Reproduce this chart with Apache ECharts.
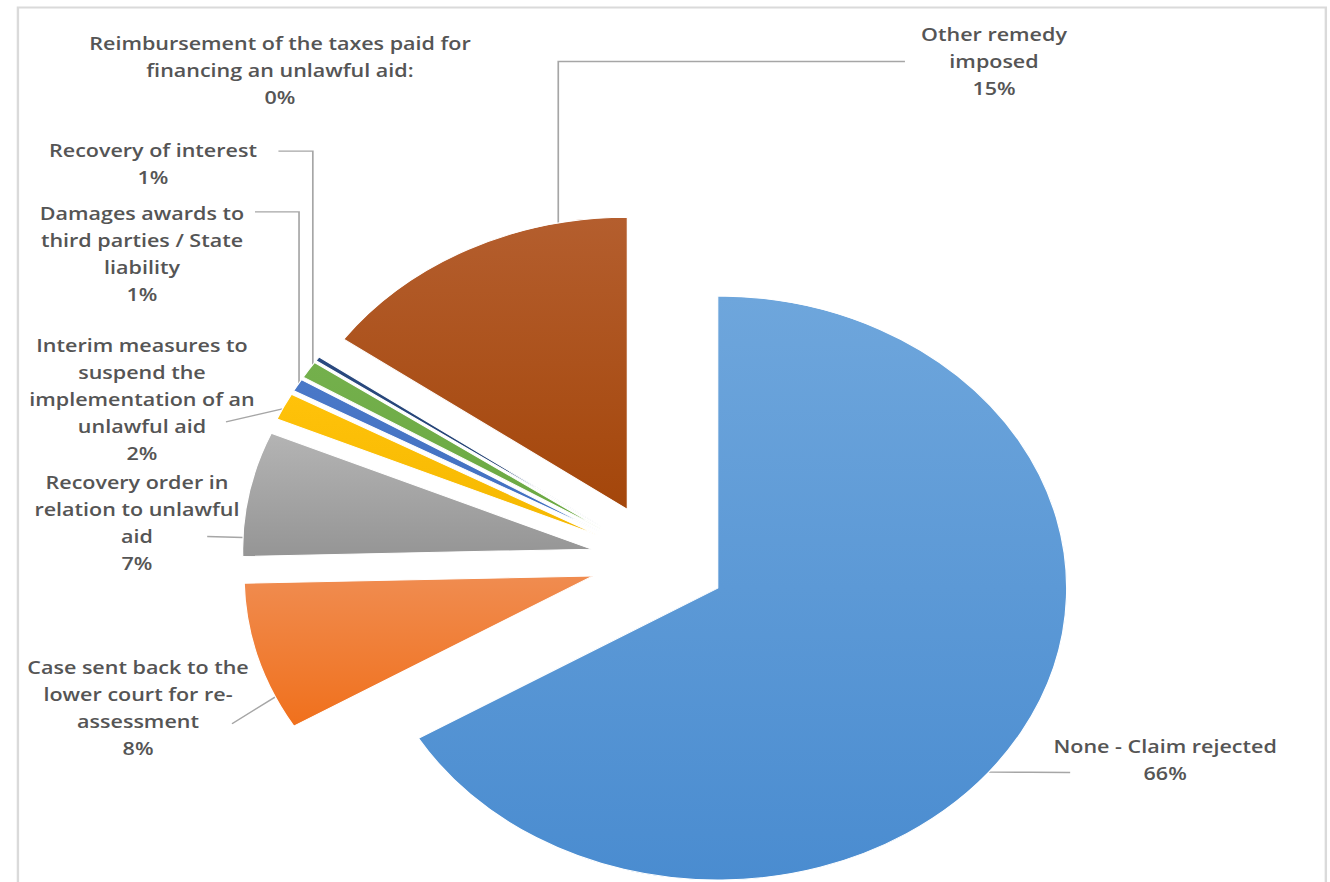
<!DOCTYPE html>
<html><head><meta charset="utf-8">
<script src="https://cdn.jsdelivr.net/npm/echarts@6/dist/echarts.min.js"></script>
<style>
html,body{margin:0;padding:0;background:#fff;overflow:hidden;}
#wrap{width:1330px;height:882px;overflow:hidden;position:relative;background:#fff;}
#chart{width:1113px;height:882px;transform:scaleX(1.195);transform-origin:0 0;}
</style></head>
<body><div id="wrap"><div id="chart"></div></div>
<script>
// ---- data ----
const categories = [
  'None - Claim rejected',
  'Case sent back to the lower court for re-assessment',
  'Recovery order in relation to unlawful aid',
  'Interim measures to suspend the implementation of an unlawful aid',
  'Damages awards to third parties / State liability',
  'Recovery of interest',
  'Reimbursement of the taxes paid for financing an unlawful aid:',
  'Other remedy imposed'
];
const labelLinesText = [
  ['None - Claim rejected'],
  ['Case sent back to the', 'lower court for re-', 'assessment'],
  ['Recovery order in', 'relation to unlawful', 'aid'],
  ['Interim measures to', 'suspend the', 'implementation of an', 'unlawful aid'],
  ['Damages awards to', 'third parties / State', 'liability'],
  ['Recovery of interest'],
  ['Reimbursement of the taxes paid for', 'financing an unlawful aid:'],
  ['Other remedy', 'imposed']
];
const shares = [66.4, 8.2, 6.9, 1.5, 0.7, 0.95, 0.25, 15.1];

// ---- styles / layout ----
const colorsTop    = ['#6EA6DC', '#F08C50', '#B4B4B4', '#FFC20A', '#4A78C8', '#74B04C', '#2A4A80', '#B45E2E'];
const colorsBottom = ['#4A8CD0', '#F0701C', '#959595', '#F5B800', '#4170C0', '#6AA842', '#22406E', '#A4460A'];
const labelPos = [[975, 759.5], [115.5, 707.5], [114.6, 522.5], [118.8, 399], [118.8, 254], [128, 163.5], [234.3, 70], [831.8, 61.5]];
const leaderStyle = ['straight', 'straight', 'straight', 'straight', 'elbow', 'elbow', 'none', 'elbow'];
const leaderAt = [0.54, 0.22, 0.15, 0.4, 0.7, 0.85, 0.5, 0.79];
const leaderEnd = [[0.74, 14, 'left'], [0.65, 14, 'right'], [0.63, 27, 'right'], [0.67, 24, 'right'],
                   [0.11, -9, 'right'], [0.27, -18, 'right'], null, [0.5, -13.5, 'left']];
const CX = 551, CY = 560, R = 292, OFF = 57;

const total = shares.reduce((a, b) => a + b, 0);
function arcPoint(i, frac) {
  let cum = 0;
  for (let j = 0; j < i; j++) cum += shares[j];
  const a0 = cum / total * 2 * Math.PI, a1 = (cum + shares[i]) / total * 2 * Math.PI;
  const mid = (a0 + a1) / 2, a = a0 + (a1 - a0) * frac;
  const ax = CX + OFF * Math.sin(mid), ay = CY - OFF * Math.cos(mid);
  return [ax + R * Math.sin(a), ay - R * Math.cos(a)];
}

const labelStyle = {
  show: true,
  position: 'outside',
  fontFamily: 'Open Sans',
  fontWeight: 600,
  fontSize: 18,
  lineHeight: 27,
  color: '#555555',
  align: 'center',
  formatter: p => labelLinesText[p.dataIndex].join('\n') + '\n' + p.percent + '%'
};

const chart = echarts.init(document.getElementById('chart'), null, {renderer: 'svg'});
chart.setOption({
  animation: false,
  backgroundColor: '#ffffff',
  tooltip: {show: false},
  graphic: [{
    type: 'rect', left: 12.5, top: 5, silent: true,
    shape: {width: 1094.5, height: 900},
    style: {fill: 'none', stroke: '#dadada', lineWidth: 2}
  }],
  series: [{
    // exploded slices
    type: 'pie',
    center: [CX, CY],
    radius: R,
    startAngle: 90,
    clockwise: true,
    selectedMode: 'multiple',
    selectedOffset: OFF,
    percentPrecision: 0,
    silent: true,
    itemStyle: {borderColor: '#ffffff', borderWidth: 1},
    select: {itemStyle: {borderColor: '#ffffff', borderWidth: 1}},
    emphasis: {disabled: true},
    label: {show: false},
    labelLine: {show: false},
    data: categories.map((name, i) => ({
      name: name,
      value: shares[i],
      selected: true,
      itemStyle: {
        color: new echarts.graphic.LinearGradient(0, 0, 0, 1, [
          {offset: 0, color: colorsTop[i]},
          {offset: 1, color: colorsBottom[i]}
        ])
      }
    }))
  }, {
    // data labels with leader lines
    type: 'pie',
    center: [CX, CY],
    radius: R,
    startAngle: 90,
    clockwise: true,
    selectedMode: false,
    percentPrecision: 0,
    silent: true,
    avoidLabelOverlap: false,
    itemStyle: {color: 'rgba(0,0,0,0)', borderWidth: 0},
    emphasis: {disabled: true},
    label: labelStyle,
    labelLine: {show: true, lineStyle: {color: '#a6a6a6', width: 1.4}},
    labelLayout: function (p) {
      const i = p.dataIndex;
      const x = labelPos[i][0], y = labelPos[i][1];
      const w = p.labelRect.width, h = p.labelRect.height;
      const res = {x: x, y: y, align: 'center', verticalAlign: 'middle'};
      const e = leaderEnd[i];
      if (e) {
        const ey = y - h / 2 + h * e[0];
        const ex = e[2] === 'left' ? x - w / 2 + e[1] : x + w / 2 - e[1];
        const s = arcPoint(i, leaderAt[i]);
        if (leaderStyle[i] === 'elbow') res.labelLinePoints = [s, [s[0], ey], [ex, ey]];
        else res.labelLinePoints = [s, [(s[0] + ex) / 2, (s[1] + ey) / 2], [ex, ey]];
      }
      return res;
    },
    data: categories.map((name, i) => ({
      name: name,
      value: shares[i],
      labelLine: {show: leaderStyle[i] !== 'none'}
    }))
  }]
});
</script>
</body></html>
